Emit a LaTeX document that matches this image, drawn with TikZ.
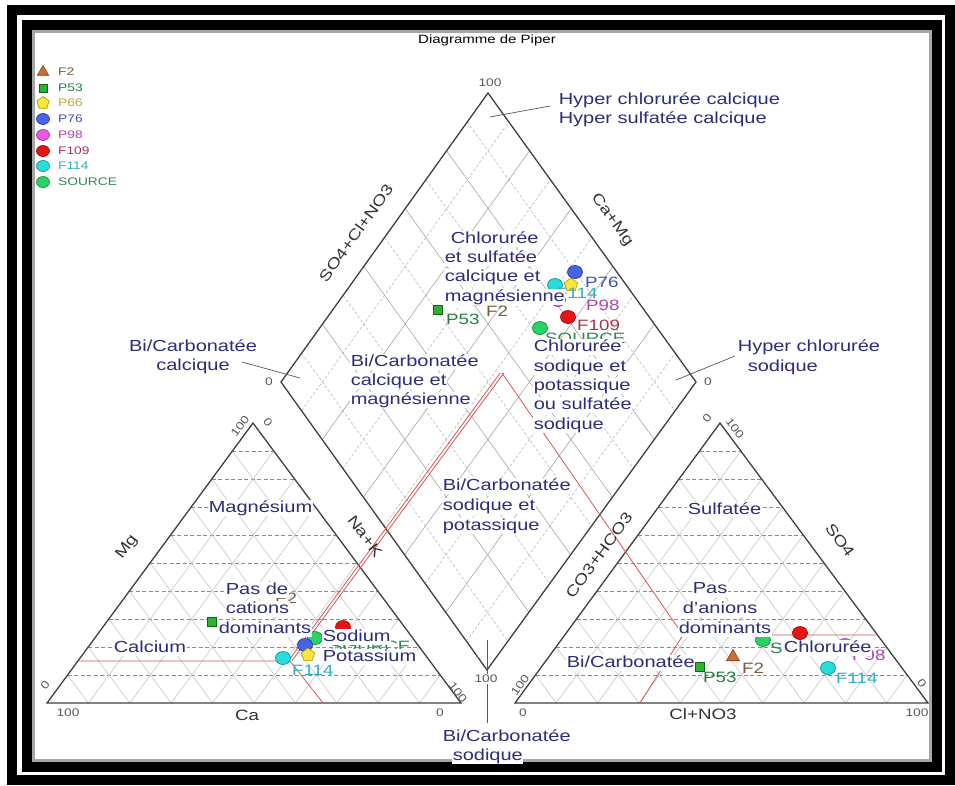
\documentclass[tikz,border=0pt]{standalone}
\usepackage{fontspec}
\setmainfont{Liberation Sans}[FakeStretch=1.25]
\usetikzlibrary{calc,shapes.geometric}
\definecolor{lblue}{RGB}{45,45,125}
\definecolor{redl}{RGB}{215,85,85}
\definecolor{cF2}{RGB}{205,110,50}\definecolor{cF2d}{RGB}{130,60,20}\definecolor{tF2}{RGB}{120,95,60}
\definecolor{cP53}{RGB}{45,180,45}\definecolor{cP53d}{RGB}{20,100,20}\definecolor{tP53}{RGB}{40,125,60}
\definecolor{cP66}{RGB}{250,230,60}\definecolor{cP66d}{RGB}{170,150,0}\definecolor{tP66}{RGB}{190,170,40}
\definecolor{cP76}{RGB}{70,100,230}\definecolor{cP76d}{RGB}{30,50,160}\definecolor{tP76}{RGB}{60,80,190}
\definecolor{cP98}{RGB}{230,90,230}\definecolor{cP98d}{RGB}{150,40,150}\definecolor{tP98}{RGB}{175,70,175}
\definecolor{cF109}{RGB}{230,20,20}\definecolor{cF109d}{RGB}{150,0,0}\definecolor{tF109}{RGB}{170,50,80}
\definecolor{cF114}{RGB}{40,220,220}\definecolor{cF114d}{RGB}{0,140,140}\definecolor{tF114}{RGB}{50,175,195}
\definecolor{cSRC}{RGB}{40,210,100}\definecolor{cSRCd}{RGB}{10,130,50}\definecolor{tSRC}{RGB}{50,135,90}
\tikzset{
  cls/.style={text=lblue,font=\fontsize{16}{19}\selectfont,inner sep=0.6pt,fill=white,anchor=west,text height=11.5pt,text depth=3.5pt},
  clsc/.style={cls,anchor=center},
  axl/.style={text=black!80,font=\fontsize{15}{18}\selectfont,inner sep=0pt},
  tick/.style={text=black!65,font=\fontsize{11}{13}\selectfont,inner sep=0pt},
  leg/.style={font=\fontsize{11}{13}\selectfont,anchor=west,inner sep=0pt},
  dl/.style={font=\fontsize{15}{18}\selectfont,anchor=west,inner sep=0pt},
  edge/.style={draw=black!75,line width=1.3pt},
  dgrid/.style={draw=black!40,line width=0.5pt},
  dgridb/.style={draw=black!30,line width=0.5pt,dash pattern=on 3pt off 2pt},
  hgrid/.style={draw=black!45,line width=0.6pt,dash pattern=on 4pt off 2.5pt},
  sgrid/.style={draw=black!25,line width=0.5pt},
  redline/.style={draw=redl,line width=0.8pt},
  leader/.style={draw=black!65,line width=0.7pt},
  mk/.style={line width=0.6pt,inner sep=0pt},
  mF2/.style={mk,regular polygon,regular polygon sides=3,minimum size=15,fill=cF2,draw=cF2d},
  mP53/.style={mk,rectangle,minimum size=9,fill=cP53,draw=cP53d},
  mP66/.style={mk,regular polygon,regular polygon sides=5,minimum size=14,fill=cP66,draw=cP66d},
  mP76/.style={mk,ellipse,minimum width=15,minimum height=13,fill=cP76,draw=cP76d},
  mP98/.style={mk,ellipse,minimum width=15,minimum height=13,fill=cP98,draw=cP98d},
  mF109/.style={mk,ellipse,minimum width=15,minimum height=13,fill=cF109,draw=cF109d},
  mF114/.style={mk,ellipse,minimum width=15,minimum height=13,fill=cF114,draw=cF114d},
  mSRC/.style={mk,ellipse,minimum width=15,minimum height=13,fill=cSRC,draw=cSRCd},
}
\begin{document}
\begin{tikzpicture}[x=1pt,y=-1pt]
\useasboundingbox (0,0) rectangle (955,785);
\fill[white] (0,0) rectangle (955,785);
% frame
\draw[line width=10pt] (12,10) rectangle (950,780);
\draw[line width=10pt] (27,25) rectangle (937,767);
\draw[black!35,line width=3pt] (33.5,31.5) rectangle (930.5,760.5);
% title
\node[font=\fontsize{12}{14}\selectfont,inner sep=0pt] (title) at (487,40) {Diagramme de Piper};
% shapes
\coordinate (DT) at (488,93); \coordinate (DL) at (281,382);
\coordinate (DR) at (696,382); \coordinate (DB) at (487,670);
\coordinate (LA) at (47,703); \coordinate (LC) at (461,703); \coordinate (LT) at (253,423);
\coordinate (RA) at (515,703); \coordinate (RC) at (928,703); \coordinate (RT) at (720,423);
% grids
\foreach \t in {0.2,0.4,0.6,0.8}{
  \draw[dgrid] ($(DL)!\t!(DT)$) -- ($(DB)!\t!(DR)$);
  \draw[dgrid] ($(DB)!\t!(DL)$) -- ($(DR)!\t!(DT)$);}
\foreach \t in {0.1,0.3,0.5,0.7,0.9}{
  \draw[dgridb] ($(DL)!\t!(DT)$) -- ($(DB)!\t!(DR)$);
  \draw[dgridb] ($(DB)!\t!(DL)$) -- ($(DR)!\t!(DT)$);}
\foreach \t in {0.1,0.2,0.3,0.4,0.5,0.6,0.7,0.8,0.9}{
  \draw[sgrid] ($(LA)!\t!(LC)$) -- ($(LA)!\t!(LT)$);
  \draw[sgrid] ($(LC)!\t!(LA)$) -- ($(LC)!\t!(LT)$);
  \draw[hgrid] ($(LA)!\t!(LT)$) -- ($(LC)!\t!(LT)$);
  \draw[sgrid] ($(RA)!\t!(RC)$) -- ($(RA)!\t!(RT)$);
  \draw[sgrid] ($(RC)!\t!(RA)$) -- ($(RC)!\t!(RT)$);
  \draw[hgrid] ($(RA)!\t!(RT)$) -- ($(RC)!\t!(RT)$);}
% edges
\draw[edge] (DT) -- (DR) -- (DB) -- (DL) -- cycle;
\draw[edge] (LA) -- (LC) -- (LT) -- cycle;
\draw[edge] (RA) -- (RC) -- (RT) -- cycle;
% red classification lines
\coordinate (AP) at (502,373);
\coordinate (JL) at (290,661); \coordinate (JLh) at (78,661); \coordinate (JLb) at (323,703);
\coordinate (JR) at (683,635); \coordinate (JRh) at (877.5,635); \coordinate (JRb) at (640,703);
\draw[redline] (JLh) -- (JL) -- (JLb);
\draw[redline] ([xshift=-1.8pt]JL) -- ([xshift=-1.8pt]AP);
\draw[redline] ([xshift=1.8pt]JL) -- ([xshift=1.8pt]AP);
\draw[redline] (JRh) -- (JR) -- (JRb);
\draw[redline] (JR) -- (AP);
% leader lines
\coordinate (l1a) at (490,117); \coordinate (l1b) at (550,106);
\coordinate (l2a) at (242,362); \coordinate (l2b) at (300,378);
\coordinate (l3a) at (735,356); \coordinate (l3b) at (676,380);
\coordinate (l4a) at (487,640); \coordinate (l4b) at (487,723);
\draw[leader] (l1a) -- (l1b);
\draw[leader] (l2a) -- (l2b);
\draw[leader] (l3a) -- (l3b);
\draw[leader] (l4a) -- (l4b);
% data: diamond
\node[mF2] (dF2) at (478,301) {};
\node[mP53] (dP53) at (438,310) {};
\node[mP98] (dP98) at (558,300) {};
\node[mF114] (dF114) at (555,285) {};
\node[mP66] (dP66) at (571,285) {};
\node[mP76] (dP76) at (575,272) {};
\node[mF109] (dF109) at (568,317) {};
\node[mSRC] (dSRC) at (540,328) {};
\node[dl,text=tP76] (tdP76) at (585,282) {P76};
\node[dl,text=tF114] (tdF114) at (556,293) {F114};
\node[dl,text=tP98] (tdP98) at (586,305) {P98};
\node[dl,text=tF109] (tdF109) at (577,325) {F109};
\node[dl,text=tSRC] (tdSRC) at (545,338) {SOURCE};
\node[dl,text=tP53] (tdP53) at (446,319) {P53};
\node[dl,text=tF2] (tdF2) at (486,311) {F2};
% data: left triangle
\node[mF2] (lF2) at (270,589) {};
\node[mP53] (lP53) at (212,622) {};
\node[mP98] (lP98) at (352,639) {};
\node[mF109] (lF109) at (343,627) {};
\node[mSRC] (lSRC) at (315,638) {};
\node[mP76] (lP76) at (305,645) {};
\node[mP66] (lP66) at (308,655) {};
\node[mF114] (lF114) at (283,658) {};
\node[dl,text=tF2] (tlF2) at (275,598) {F2};
\node[dl,text=tP53] (tlP53) at (220,631) {P53};
\node[dl,text=tSRC] (tlSRC) at (330,646) {SOURCE};
\node[dl,text=tF114] (tlF114) at (292,670) {F114};
% data: right triangle
\node[mP98] (rP98) at (845,645) {};
\node[mF109] (rF109) at (800,633) {};
\node[mSRC] (rSRC) at (763,640) {};
\node[mF2] (rF2) at (733,657) {};
\node[mP53] (rP53) at (700,667) {};
\node[mF114] (rF114) at (828,668) {};
\node[dl,text=tSRC] (trSRC) at (770,648) {SOURCE};
\node[dl,text=tP98] (trP98) at (852,655) {P98};
\node[dl,text=tF2] (trF2) at (742,668) {F2};
\node[dl,text=tP53] (trP53) at (703,677) {P53};
\node[dl,text=tF114] (trF114) at (836,678) {F114};
% class labels: diamond
\node[cls] (hc1) at (558,100) {Hyper chlorurée calcique};
\node[cls] (hc2) at (558,119) {Hyper sulfatée calcique};
\node[cls] (cs1) at (450,239) {Chlorurée};
\node[cls] (cs2) at (444,258) {et sulfatée};
\node[cls] (cs3) at (444,277) {calcique et};
\node[cls] (cs4) at (444,297) {magnésienne};
\node[cls] (bc1) at (350,362) {Bi/Carbonatée};
\node[cls] (bc2) at (350,381) {calcique et};
\node[cls] (bc3) at (350,400) {magnésienne};
\node[cls] (cn1) at (533,347) {Chlorurée};
\node[cls] (cn2) at (533,367) {sodique et};
\node[cls] (cn3) at (533,386) {potassique};
\node[cls] (cn4) at (533,405) {ou sulfatée};
\node[cls] (cn5) at (533,425) {sodique};
\node[cls] (bs1) at (442,486) {Bi/Carbonatée};
\node[cls] (bs2) at (442,506) {sodique et};
\node[cls] (bs3) at (442,526) {potassique};
\node[clsc] (bcc1) at (193,347) {Bi/Carbonatée};
\node[clsc] (bcc2) at (193,366) {calcique};
\node[cls] (hs1) at (737,347) {Hyper chlorurée};
\node[cls] (hs2) at (747,367) {sodique};
\node[cls] (bd1) at (442,737) {Bi/Carbonatée};
\node[cls] (bd2) at (452,756) {sodique};
% class labels: left triangle
\node[cls] (tm) at (208,508) {Magnésium};
\node[cls] (tp1) at (225,590) {Pas de};
\node[cls] (tp2) at (225,609) {cations};
\node[cls] (tp3) at (218,629) {dominants};
\node[cls] (tca) at (113,648) {Calcium};
\node[cls] (tna) at (322,637) {Sodium};
\node[cls] (tk) at (322,657) {Potassium};
% class labels: right triangle
\node[cls] (ts) at (687,510) {Sulfatée};
\node[cls] (ta1) at (692,589) {Pas};
\node[cls] (ta2) at (682,609) {d'anions};
\node[cls] (ta3) at (678,629) {dominants};
\node[cls] (tcl) at (783,648) {Chlorurée};
\node[cls] (tbi) at (566,663) {Bi/Carbonatée};
% axis labels
\node[axl,rotate=54.4] (axSO) at (356,233) {SO4+Cl+NO3};
\node[axl,rotate=-54.3] (axCM) at (612,220) {Ca+Mg};
\node[axl,rotate=-53.4] (axNK) at (365,536) {Na+K};
\node[axl,rotate=53.4] (axMg) at (127,547) {Mg};
\node[axl] (axCa) at (247,715) {Ca};
\node[axl,rotate=53.8] (axCO) at (599,555) {CO3+HCO3};
\node[axl,rotate=-53.4] (axS4) at (840,540) {SO4};
\node[axl] (axCl) at (703,714) {Cl+NO3};
% ticks
\node[tick] (k1) at (490,83) {100};
\node[tick] (k2) at (269,382) {0};
\node[tick] (k3) at (708,382) {0};
\node[tick,fill=white,inner sep=1pt] (k4) at (486,679) {100};
\node[tick] (k5) at (68,713) {100};
\node[tick] (k6) at (440,713) {0};
\node[tick,rotate=53.4] (k7) at (45,685) {0};
\node[tick,rotate=53.4] (k8) at (240,426) {100};
\node[tick,rotate=-53.4] (k9) at (268,422) {0};
\node[tick,rotate=-53.4] (k10) at (458,692) {100};
\node[tick] (k11) at (523,713) {0};
\node[tick] (k12) at (917,713) {100};
\node[tick,rotate=53.8] (k13) at (520,685) {100};
\node[tick,rotate=53.8] (k14) at (707,418) {0};
\node[tick,rotate=-53.4] (k15) at (735,428) {100};
\node[tick,rotate=-53.4] (k16) at (922,683) {0};
% legend
\node[mF2,minimum size=13] (g1) at (43,72) {};
\node[mP53,minimum size=8] (g2) at (43,88) {};
\node[mP66,minimum size=13] (g3) at (43,103) {};
\node[mP76,minimum width=13,minimum height=11] (g4) at (43,119) {};
\node[mP98,minimum width=13,minimum height=11] (g5) at (43,135) {};
\node[mF109,minimum width=13,minimum height=11] (g6) at (43,151) {};
\node[mF114,minimum width=13,minimum height=11] (g7) at (43,166) {};
\node[mSRC,minimum width=13,minimum height=11] (g8) at (43,182) {};
\node[leg,text=tF2] (gt1) at (58,72) {F2};
\node[leg,text=tP53] (gt2) at (58,88) {P53};
\node[leg,text=tP66] (gt3) at (58,103) {P66};
\node[leg,text=tP76] (gt4) at (58,119) {P76};
\node[leg,text=tP98] (gt5) at (58,135) {P98};
\node[leg,text=tF109] (gt6) at (58,151) {F109};
\node[leg,text=tF114] (gt7) at (58,166) {F114};
\node[leg,text=tSRC] (gt8) at (58,182) {SOURCE};
\end{tikzpicture}
\end{document}
